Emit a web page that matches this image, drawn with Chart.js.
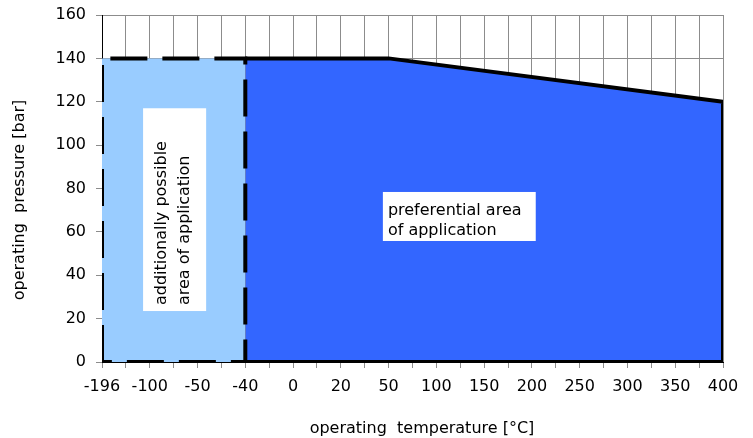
<!DOCTYPE html>
<html>
<head>
<meta charset="utf-8">
<script src="https://cdn.jsdelivr.net/npm/chart.js@4.4.1/dist/chart.umd.min.js"></script>
<style>
  html, body { margin: 0; padding: 0; background: #fff; }
  #wrap { width: 753px; height: 438px; position: relative; }
</style>
</head>
<body>
<div id="wrap"><canvas id="chart"></canvas></div>
<script>
// axis labels (the temperature axis is not linear, each label sits two grid steps apart)
const tempLabels = ['-196', '-100', '-50', '-40', '0', '20', '50', '100', '150', '200', '250', '300', '350', '400'];

// additionally possible area (light blue)
const additionalTemps = [-196, -40];
const additionalPressure = [140, 140];

// preferential area (dark blue)
const preferentialTemps = [-40, 50, 400];
const preferentialPressure = [140, 140, 120];

const FONT = 'DejaVu Sans';

// temperature -> position on the x scale
const tempPos = (t) => tempLabels.indexOf(String(t)) * 2;
const toPoints = (temps, vals) => temps.map((t, i) => ({ x: tempPos(t), y: vals[i] }));

const lightTop = toPoints(additionalTemps, additionalPressure);
const darkTop = toPoints(preferentialTemps, preferentialPressure);

// closed outlines, built from the same points
const lightOutline = [
  { x: lightTop[0].x, y: 0 },
  ...lightTop,
  { x: lightTop[lightTop.length - 1].x, y: 0 },
  { x: lightTop[0].x, y: 0 }
];
const darkOutline = [
  ...darkTop,
  { x: darkTop[darkTop.length - 1].x, y: 0 },
  { x: darkTop[0].x, y: 0 }
];

const lastPos = (tempLabels.length - 1) * 2;

// white boxes with the area labels + axis titles
const textPlugin = {
  id: 'textPlugin',
  afterDatasetsDraw(chart) {
    const { ctx, scales: { x, y } } = chart;
    ctx.save();
    ctx.font = '16px "' + FONT + '"';
    ctx.fillStyle = '#000';

    // vertical box in the light area
    const bx1 = x.getPixelForValue(1.72), bx2 = x.getPixelForValue(4.36);
    const by1 = y.getPixelForValue(117), by2 = y.getPixelForValue(23.5);
    ctx.fillStyle = '#fff';
    ctx.fillRect(bx1, by1, bx2 - bx1, by2 - by1);
    ctx.fillStyle = '#000';
    ctx.textAlign = 'left';
    ctx.textBaseline = 'middle';
    ctx.save();
    ctx.translate(bx1 + 19, by2 - 6);
    ctx.rotate(-Math.PI / 2);
    ctx.fillText('additionally possible', 0, 0);
    ctx.fillText('area of application', 0, 23);
    ctx.restore();

    // box in the dark area
    const px1 = x.getPixelForValue(11.76), px2 = x.getPixelForValue(18.16);
    const py1 = y.getPixelForValue(78.4), py2 = y.getPixelForValue(55.8);
    ctx.fillStyle = '#fff';
    ctx.fillRect(px1, py1, px2 - px1, py2 - py1);
    ctx.fillStyle = '#000';
    ctx.textBaseline = 'alphabetic';
    ctx.fillText('preferential area', px1 + 5, py1 + 23);
    ctx.fillText('of application', px1 + 5, py1 + 43);

    // axis titles
    ctx.textAlign = 'center';
    ctx.fillText('operating  temperature [°C]', 422, 433);
    ctx.save();
    ctx.translate(20, 200);
    ctx.rotate(-Math.PI / 2);
    ctx.textBaseline = 'middle';
    ctx.fillText('operating  pressure [bar]', 0, 0);
    ctx.restore();

    ctx.restore();
  }
};

const ctx = document.getElementById('chart');

new Chart(ctx, {
  type: 'line',
  data: {
    datasets: [
      {
        // solid outline of preferential area
        data: darkOutline,
        borderColor: '#000',
        borderWidth: 4,
        fill: false,
        pointRadius: 0,
        borderJoinStyle: 'miter'
      },
      {
        // dashed outline of additional area
        data: lightOutline,
        borderColor: '#000',
        borderWidth: 4,
        borderDash: [37, 15],
        fill: false,
        pointRadius: 0
      },
      {
        data: darkTop,
        borderWidth: 0,
        backgroundColor: '#3366FF',
        fill: 'origin',
        pointRadius: 0
      },
      {
        data: lightTop,
        borderWidth: 0,
        backgroundColor: '#99CCFF',
        fill: 'origin',
        pointRadius: 0
      }
    ]
  },
  options: {
    responsive: true,
    maintainAspectRatio: false,
    animation: false,
    layout: { padding: { left: 0, right: 30, top: 15, bottom: 0 } },
    plugins: {
      legend: { display: false },
      tooltip: { enabled: false }
    },
    scales: {
      x: {
        type: 'linear',
        min: 0,
        max: lastPos,
        afterFit: (scale) => {
          scale.height = 76;
          scale.paddingLeft = 0;
          scale.paddingRight = 0;
        },
        ticks: {
          stepSize: 1,
          maxTicksLimit: 40,
          autoSkip: false,
          maxRotation: 0,
          padding: 9,
          color: '#000',
          font: { family: FONT, size: 16 },
          callback: (v) => (v % 2 === 0 ? tempLabels[v / 2] : '')
        },
        grid: { color: '#8c8c8c', tickColor: '#8c8c8c', tickLength: 6, lineWidth: 1 },
        border: { color: '#000', width: 1 }
      },
      y: {
        min: 0,
        max: 160,
        afterFit: (scale) => {
          scale.width = 102;
          scale.paddingTop = 0;
          scale.paddingBottom = 0;
        },
        ticks: {
          stepSize: 10,
          padding: 10,
          color: '#000',
          font: { family: FONT, size: 16 },
          callback: (v) => (v % 20 === 0 ? v : '')
        },
        grid: {
          color: (c) => (c.tick && c.tick.value % 20 === 0 ? '#8c8c8c' : 'rgba(0,0,0,0)'),
          tickColor: '#8c8c8c',
          tickLength: 6
        },
        border: { color: '#000', width: 1 }
      }
    }
  },
  plugins: [textPlugin]
});
</script>
</body>
</html>
